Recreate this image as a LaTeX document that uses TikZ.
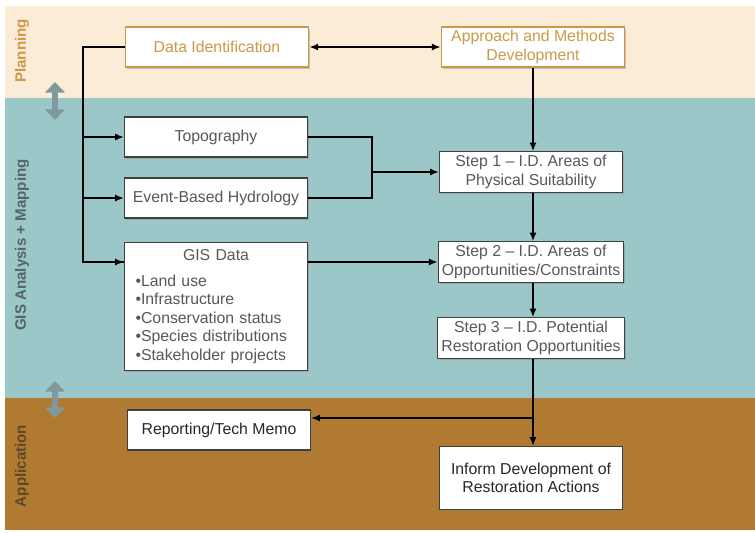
\documentclass[tikz,border=0pt]{standalone}
\usepackage{fontspec}
\setmainfont{Liberation Sans}
\usepackage{tikz}
\usetikzlibrary{arrows.meta,shadows,calc,positioning}
\definecolor{planbg}{RGB}{250,236,214}
\definecolor{gisbg}{RGB}{156,199,200}
\definecolor{appbg}{RGB}{176,122,50}
\definecolor{planline}{RGB}{204,154,70}
\definecolor{boxtext}{RGB}{88,88,88}
\definecolor{darktext}{RGB}{40,40,40}
\definecolor{bandarrow}{RGB}{128,152,158}
\tikzstyle{edge}  =[line width=1.2pt, >={Latex[length=5pt,width=4pt]}]
\tikzstyle{box}   =[rectangle, draw=darkgray, fill=white, line width=0.6pt,
                    minimum width=3.66cm, minimum height=0.8cm,
                    inner sep=2pt, align=center, text=boxtext,
                    drop shadow={shadow xshift=1pt, shadow yshift=-1pt, opacity=0.4}]
\tikzstyle{planbox}=[box, draw=planline, text=planline, line width=0.9pt]
\tikzstyle{band}  =[font=\bfseries\fontsize{8.6}{10}\selectfont, rotate=90]
\tikzstyle{updown}=[line width=3.8pt, draw=bandarrow,
                    {Triangle[width=11pt,length=6pt]}-{Triangle[width=11pt,length=6pt]}]

\begin{document}
\begin{tikzpicture}[x=0.02cm, y=-0.02cm,
            every node/.style={font=\fontsize{9}{10.5}\selectfont}]
    \useasboundingbox (0,0) rectangle (755,532);
    % bands
    \fill[planbg] (5,6) rectangle (755,98);
    \fill[gisbg] (5,98) rectangle (755,398);
    \fill[appbg] (5,398) rectangle (755,530);
    \node[band, text=planline] (lplan) at (22,51) {Planning};
    \node[band, text={rgb,255:red,85;green,100;blue,102}] (lgis) at (22,245) {GIS Analysis + Mapping};
    \node[band, text={rgb,255:red,95;green,72;blue,40}] (lapp) at (22,466) {Application};
    \coordinate (u1) at (55,82);
    \coordinate (d1) at (55,120);
    \coordinate (u2) at (55,381);
    \coordinate (d2) at (55,418);
    \draw[updown] (u1) -- (d1);
    \draw[updown] (u2) -- (d2);

    % boxes
    \node[planbox] (dataid) at (217,47) {Data Identification};
    \node[planbox] (approach) at (533,47) {Approach and Methods\\Development};
    \node[box] (topo) at (216,137) {Topography};
    \node[box] (event) at (216,198) {Event-Based Hydrology};
    \node[box, align=left, text width=3.22cm, inner xsep=6pt, inner ysep=2pt,
          minimum height=2.56cm, anchor=north] (gisdata) at (216,242)
          {\makebox[\linewidth][c]{GIS Data}\\[4pt]
           •Land use\\•Infrastructure\\•Conservation status\\
           •Species distributions\\•Stakeholder projects};
    \node[box] (step1) at (531,172) {Step 1 -- I.D. Areas of\\Physical Suitability};
    \node[box] (step2) at (531,262) {Step 2 -- I.D. Areas of\\Opportunities/Constraints};
    \node[box] (step3) at (531,338) {Step 3 -- I.D. Potential\\Restoration Opportunities};
    \node[box, text=darktext] (report) at (219,430) {Reporting/Tech Memo};
    \node[box, text=darktext, minimum height=1.26cm] (inform) at (531,478)
          {Inform Development of\\Restoration Actions};

    % connectors
    \coordinate (trunk) at (83,47);
    \coordinate (gisin) at ($(gisdata.north west)+(0,20)$);
    \coordinate (merge) at (372,172);
    \coordinate (split) at (533,418);
    \draw[edge] (dataid.west) -- (trunk) |- (gisin);
    \draw[edge, ->] (gisin -| trunk) -- (gisin);
    \draw[edge, ->] (topo.west -| trunk) -- (topo.west);
    \draw[edge, ->] (event.west -| trunk) -- (event.west);
    \draw[edge, <->] (dataid.east) -- (approach.west);
    \draw[edge, ->] (approach.south) -- (approach.south |- step1.north);
    \draw[edge] (topo.east) -| (merge);
    \draw[edge] (event.east) -| (merge);
    \draw[edge, ->] (merge) -- (step1.west);
    \draw[edge, ->] (gisin -| gisdata.east) -- (gisin -| step2.west);
    \draw[edge, ->] (step1.south -| approach.south) -- (step2.north -| approach.south);
    \draw[edge, ->] (step2.south -| approach.south) -- (step3.north -| approach.south);
    \draw[edge, ->] (step3.south -| split) -- (inform.north -| split);
    \draw[edge, ->] (split) -- (split -| report.east);
\end{tikzpicture}
\end{document}
